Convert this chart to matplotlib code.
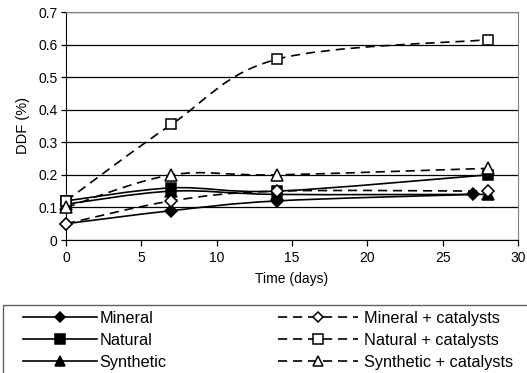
import matplotlib
matplotlib.use("Agg")
import matplotlib.pyplot as plt
from matplotlib.path import Path
from matplotlib.patches import PathPatch, Rectangle
from matplotlib.lines import Line2D

plt.rcParams['font.family'] = ['Liberation Sans', 'DejaVu Sans']

days = [0, 7, 14, 28]
days_mineral = [0, 7, 14, 27]
mineral = [0.05, 0.09, 0.12, 0.14]
natural = [0.12, 0.16, 0.15, 0.20]
synthetic = [0.11, 0.15, 0.14, 0.14]
mineral_cat = [0.05, 0.12, 0.15, 0.15]
natural_cat = [0.12, 0.355, 0.555, 0.615]
synthetic_cat = [0.10, 0.20, 0.20, 0.22]

series = [
    ("Mineral", days_mineral, mineral, 'D', 'black', '-'),
    ("Natural", days, natural, 's', 'black', '-'),
    ("Synthetic", days, synthetic, '^', 'black', '-'),
    ("Mineral + catalysts", days, mineral_cat, 'D', 'white', '--'),
    ("Natural + catalysts", days, natural_cat, 's', 'white', '--'),
    ("Synthetic + catalysts", days, synthetic_cat, '^', 'white', '--'),
]

W, H = 527, 373
fig = plt.figure(figsize=(W/100, H/100), dpi=100)
ax = fig.add_axes([66/W, 1-240/H, (518-66)/W, (240-12)/H])


def smooth_path(xs, ys):
    pts = list(zip(xs, ys))
    n = len(pts)
    verts = [pts[0]]
    codes = [Path.MOVETO]
    for i in range(n-1):
        p0 = pts[i-1] if i > 0 else pts[i]
        p1 = pts[i]
        p2 = pts[i+1]
        p3 = pts[i+2] if i+2 < n else pts[i+1]
        c1 = (p1[0] + (p2[0]-p0[0])/6, p1[1] + (p2[1]-p0[1])/6)
        c2 = (p2[0] - (p3[0]-p1[0])/6, p2[1] - (p3[1]-p1[1])/6)
        verts += [c1, c2, p2]
        codes += [Path.CURVE4]*3
    return Path(verts, codes)

dash = (0, (5.5, 3.5))
sizes = {'s': 7.8, 'D': 5.9, '^': 8.5}
handles = []
for name, xs, ys, m, fc, ls in series:
    lstyle = '-' if ls == '-' else dash
    patch = PathPatch(smooth_path(xs, ys), facecolor='none', edgecolor='black',
                      lw=1.2, linestyle=lstyle, zorder=3)
    ax.add_patch(patch)
    ms = sizes[m]
    ax.plot(xs, ys, linestyle='none', marker=m, markersize=ms,
            markerfacecolor=fc, markeredgecolor='black', markeredgewidth=1.1,
            zorder=4, clip_on=False)
    handles.append(Line2D([], [], color='black', lw=1.2, linestyle=lstyle,
                          marker=m, markersize=ms*0.9, markerfacecolor=fc,
                          markeredgecolor='black', markeredgewidth=1.1, label=name))

ax.set_xlim(0, 30)
ax.set_ylim(0, 0.7)
ax.set_xticks(range(0, 31, 5))
ax.set_yticks([0, 0.1, 0.2, 0.3, 0.4, 0.5, 0.6, 0.7])
ax.set_yticklabels(["0", "0.1", "0.2", "0.3", "0.4", "0.5", "0.6", "0.7"])
ax.yaxis.grid(True, color='black', lw=0.9)
ax.set_axisbelow(True)
for s in ['top', 'right']:
    ax.spines[s].set_color('#808080')
for s in ['left', 'bottom']:
    ax.spines[s].set_color('black')
ax.tick_params(axis='x', direction='out', length=4, width=0.9, labelsize=10, pad=4)
ax.tick_params(axis='y', direction='out', length=3.5, width=0.9, labelsize=10, pad=2.5)
ax.set_xlabel("Time (days)", fontsize=10, labelpad=5)
ax.set_ylabel("DDF (%)", fontsize=10.5, labelpad=6)

# legend frame
fig.add_artist(Rectangle((3/W, -0.05), 1.0, 1-305/H+0.05, transform=fig.transFigure,
                         facecolor='white', edgecolor='#606060', lw=1.0, zorder=1))

fs = 11.7
legA = fig.legend(handles[:3], [h.get_label() for h in handles[:3]],
                  loc='upper left', bbox_to_anchor=(23/W, 1-311/H),
                  fontsize=fs, frameon=False, handlelength=4.55, handletextpad=0.15,
                  labelspacing=0.42, borderpad=0, borderaxespad=0)
legB = fig.legend(handles[3:], [h.get_label() for h in handles[3:]],
                  loc='upper left', bbox_to_anchor=(278/W, 1-311/H),
                  fontsize=fs, frameon=False, handlelength=4.9, handletextpad=0.4,
                  labelspacing=0.42, borderpad=0, borderaxespad=0)
legA.set_zorder(5)
legB.set_zorder(5)

fig.savefig("out.png", dpi=100)
